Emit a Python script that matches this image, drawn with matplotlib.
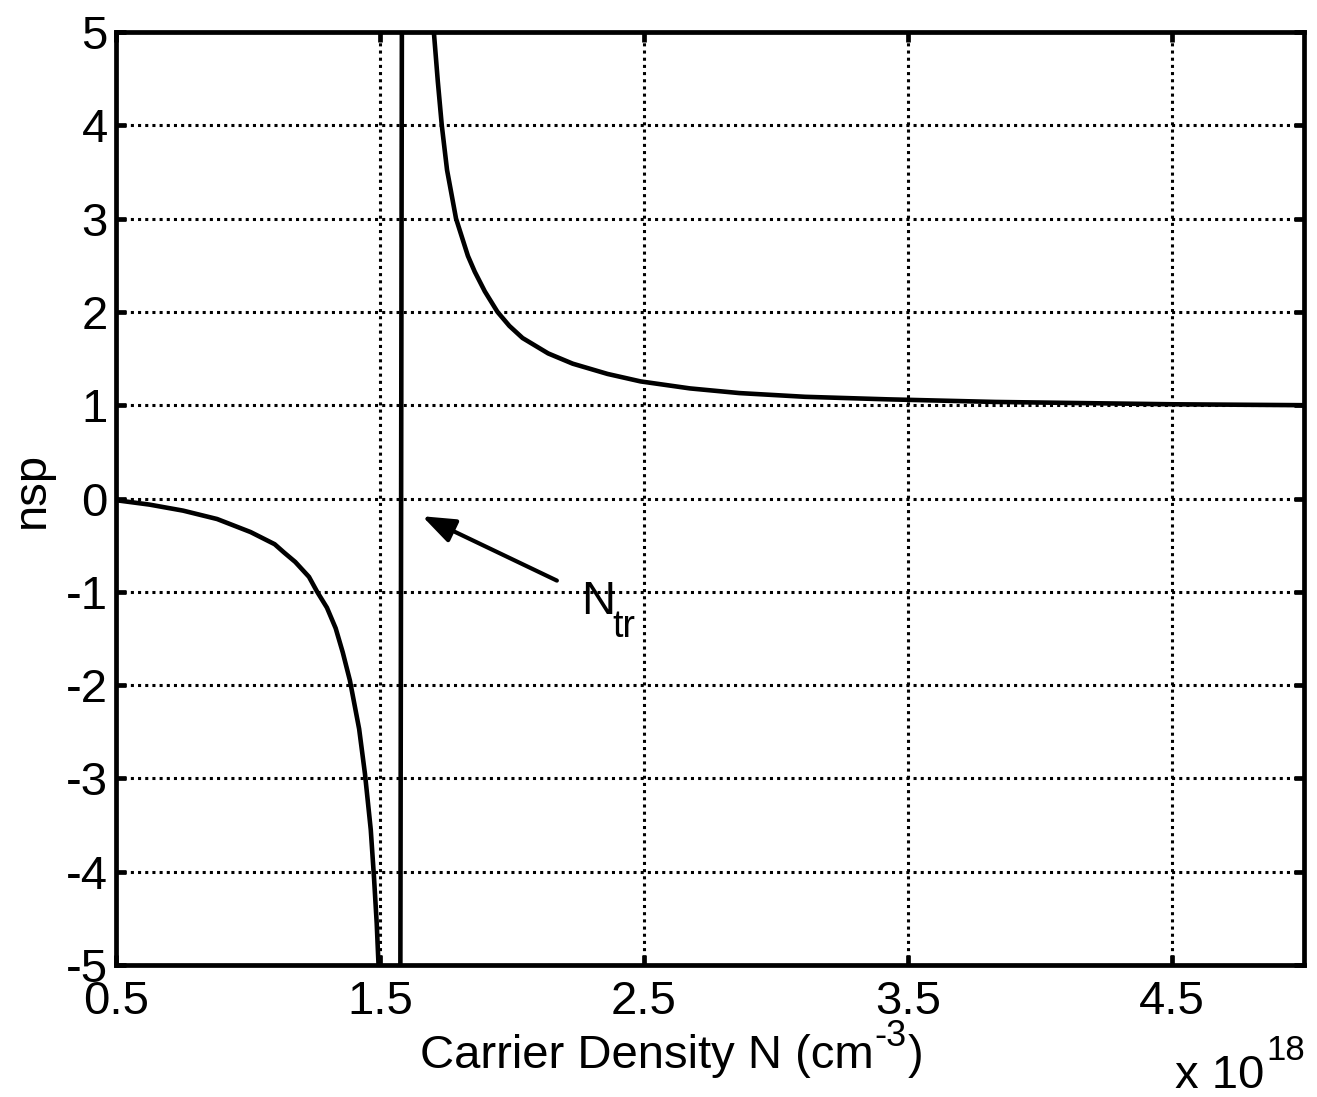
import matplotlib
matplotlib.use("Agg")
import matplotlib.pyplot as plt

plt.rcParams['font.family'] = ['Liberation Sans', 'DejaVu Sans']
plt.rcParams['axes.unicode_minus'] = False

# Data (carrier density in units of 1e18 cm^-3)
N_left = [0.505, 0.626, 0.754, 0.883, 1.010, 1.101, 1.137, 1.179, 1.231,
          1.262, 1.299, 1.332, 1.359, 1.386, 1.421, 1.443, 1.465, 1.477,
          1.4875, 1.496, 1.499]
nsp_left = [-0.02, -0.065, -0.13, -0.22, -0.36, -0.49, -0.58, -0.68, -0.84,
            -1.0, -1.17, -1.39, -1.65, -1.95, -2.47, -2.95, -3.55, -4.05,
            -4.55, -5.1, -5.5]

N_mid = [1.577, 1.580, 1.583]
nsp_mid = [-5.3, 0.0, 5.3]

N_right = [1.700, 1.704, 1.719, 1.734, 1.754, 1.788, 1.833, 1.859, 1.897,
           1.945, 1.990, 2.040, 2.137, 2.230, 2.362, 2.487, 2.674, 2.861,
           3.110, 3.421, 3.83, 4.5, 5.0]
nsp_right = [5.4, 5.0, 4.47, 4.0, 3.52, 3.0, 2.60, 2.43, 2.22,
             2.0, 1.85, 1.72, 1.555, 1.445, 1.335, 1.255, 1.18, 1.13,
             1.09, 1.063, 1.035, 1.01, 1.0]

x_ticks = [0.5, 1.5, 2.5, 3.5, 4.5]
x_ticklabels = ['0.5', '1.5', '2.5', '3.5', '4.5']
y_ticks = [-5, -4, -3, -2, -1, 0, 1, 2, 3, 4, 5]
y_ticklabels = ['-5', '-4', '-3', '-2', '-1', '0', '1', '2', '3', '4', '5']

W, H = 1317, 1097
fig = plt.figure(figsize=(W / 100, H / 100), dpi=100)
ax = fig.add_axes([116 / W, 1 - 965 / H, (1304 - 116) / W, (965 - 32) / H])

for Nx, ny in [(N_left, nsp_left), (N_mid, nsp_mid), (N_right, nsp_right)]:
    ax.plot(Nx, ny, color='black', lw=3.3, solid_capstyle='butt',
            solid_joinstyle='round', zorder=3)

ax.set_xlim(0.5, 5.0)
ax.set_ylim(-5, 5)
ax.set_xticks(x_ticks)
ax.set_xticklabels(x_ticklabels)
ax.set_yticks(y_ticks)
ax.set_yticklabels(y_ticklabels)

ax.grid(True, color='black', linestyle=(0, (1, 1.35)), linewidth=2.2)
ax.set_axisbelow(True)
for s in ax.spines.values():
    s.set_linewidth(3.4)
    s.set_zorder(4)
ax.tick_params(direction='in', length=7, width=3.4, top=True, right=True,
               labelsize=34)
ax.tick_params(axis='y', pad=6)
ax.tick_params(axis='x', pad=11)

# Annotation: arrow to N_tr
ax.annotate('', xy=(1.66, -0.19), xytext=(2.17, -0.88),
            arrowprops=dict(arrowstyle='-|>,head_length=2.0,head_width=0.75',
                            color='black', lw=3.0, shrinkA=0, shrinkB=0))
ax.text(2.26, -1.24, 'N', fontsize=34, ha='left', va='baseline')
ax.annotate('tr', xy=(2.26, -1.24), xytext=(23, -16.5),
            textcoords='offset points', fontsize=27, ha='left', va='baseline')

# Axis labels
fig.canvas.draw()
renderer = fig.canvas.get_renderer()
t1 = fig.text(420 / W, 1 - 1068 / H, 'Carrier Density N (cm', fontsize=34,
              ha='left', va='baseline')
bb = t1.get_window_extent(renderer)
t2 = fig.text((bb.x1 + 1) / W, 1 - 1046 / H, '-3', fontsize=26, ha='left',
              va='baseline')
bb2 = t2.get_window_extent(renderer)
fig.text((bb2.x1 + 1) / W, 1 - 1068 / H, ')', fontsize=34, ha='left',
         va='baseline')

fig.text(32 / W, 1 - 490 / H, 'nsp', fontsize=34, rotation=90,
         ha='center', va='center')

t3 = fig.text(1175 / W, 1 - 1088 / H, 'x 10', fontsize=34, ha='left',
              va='baseline')
bb3 = t3.get_window_extent(renderer)
fig.text((bb3.x1 + 2) / W, 1 - 1060 / H, '18', fontsize=25, ha='left',
         va='baseline')

fig.savefig('out.png', dpi=100)
